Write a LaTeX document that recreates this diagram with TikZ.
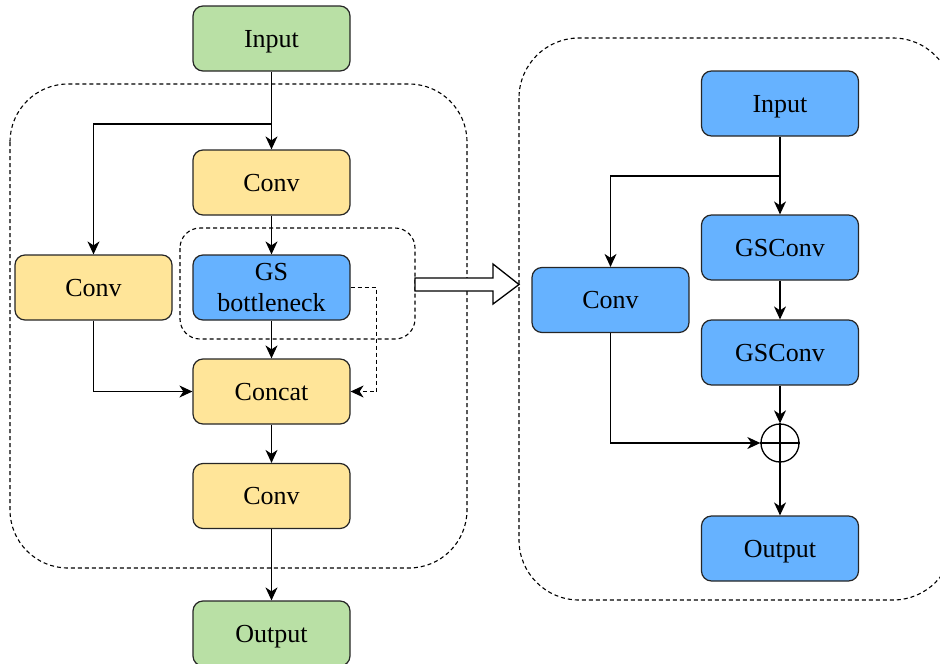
\documentclass[tikz,border=0pt]{standalone}
\usepackage{fontspec}
\setmainfont{Liberation Serif}
\usetikzlibrary{arrows.meta,shapes.geometric}
\definecolor{gfill}{HTML}{B9E0A5}
\definecolor{yfill}{HTML}{FFE599}
\definecolor{bfill}{HTML}{66B2FF}
\tikzset{
  blk/.style={draw=black!85,line width=1.2pt,rounded corners=10pt,minimum width=157pt,minimum height=65pt,inner sep=0pt,align=center,text depth=-5pt,font=\fontsize{26}{31}\selectfont},
  gbox/.style={blk,fill=gfill},
  ybox/.style={blk,fill=yfill},
  bbox/.style={blk,fill=bfill},
  arr/.style={line width=1.3pt,-{Stealth[length=13pt,width=12pt,inset=4pt]}},
  darr/.style={arr,dash pattern=on 4pt off 3pt},
  cont/.style={line width=1.1pt,dash pattern=on 4pt off 3pt},
}
\begin{document}
\begin{tikzpicture}[x=1pt,y=-1pt]
\useasboundingbox (0,0) rectangle (940,664);
% containers
\draw[cont,rounded corners=58pt] (10,84) rectangle (467,568);
\draw[cont,rounded corners=60pt] (519,38) rectangle (953,600);
\draw[cont,rounded corners=20pt] (180,228) rectangle (415,339);
% left nodes
\node[gbox] (in1) at (271.5,38.5) {Input};
\node[ybox] (conv1) at (271.5,182.5) {Conv};
\node[ybox] (convL) at (93.5,287.5) {Conv};
\node[bbox] (gsb) at (271.5,287.5) {GS\\bottleneck};
\node[ybox] (concat) at (271.5,391.5) {Concat};
\node[ybox] (conv2) at (271.5,496) {Conv};
\node[gbox] (out1) at (271.5,633.5) {Output};
% right nodes
\node[bbox] (in2) at (780,103.5) {Input};
\node[bbox] (gs1) at (780,247.5) {GSConv};
\node[bbox] (convR) at (610.5,300) {Conv};
\node[bbox] (gs2) at (780,352.5) {GSConv};
\node[draw=black,line width=1.3pt,circle,minimum size=38pt,inner sep=0pt] (plus) at (780,443) {};
\draw[line width=1.3pt] (plus.north) -- (plus.south) (plus.west) -- (plus.east);
\node[bbox] (out2) at (780,548.5) {Output};
% left connectors
\coordinate (b1) at (271.5,124);
\draw[arr] (in1.south) -- (conv1.north);
\draw[arr] (b1) -| (convL.north);
\draw[arr] (conv1.south) -- (gsb.north);
\draw[arr] (gsb.south) -- (concat.north);
\draw[arr] (convL.south) |- (concat.west);
\draw[darr] (gsb.east) -- ++(26,0) |- (concat.east);
\draw[arr] (concat.south) -- (conv2.north);
\draw[arr] (conv2.south) -- (out1.north);
% hollow arrow
\draw[line width=1.3pt,fill=white] (415,278) -- (493,278) -- (493,264) -- (519,284.5) -- (493,304) -- (493,291) -- (415,291) -- cycle;
% right connectors
\coordinate (b2) at (780,176);
\draw[arr] (in2.south) -- (gs1.north);
\draw[arr] (b2) -| (convR.north);
\draw[arr] (gs1.south) -- (gs2.north);
\draw[arr] (gs2.south) -- (plus.north);
\draw[arr] (convR.south) |- (plus.west);
\draw[arr] (plus.south) -- (out2.north);
\end{tikzpicture}
\end{document}
